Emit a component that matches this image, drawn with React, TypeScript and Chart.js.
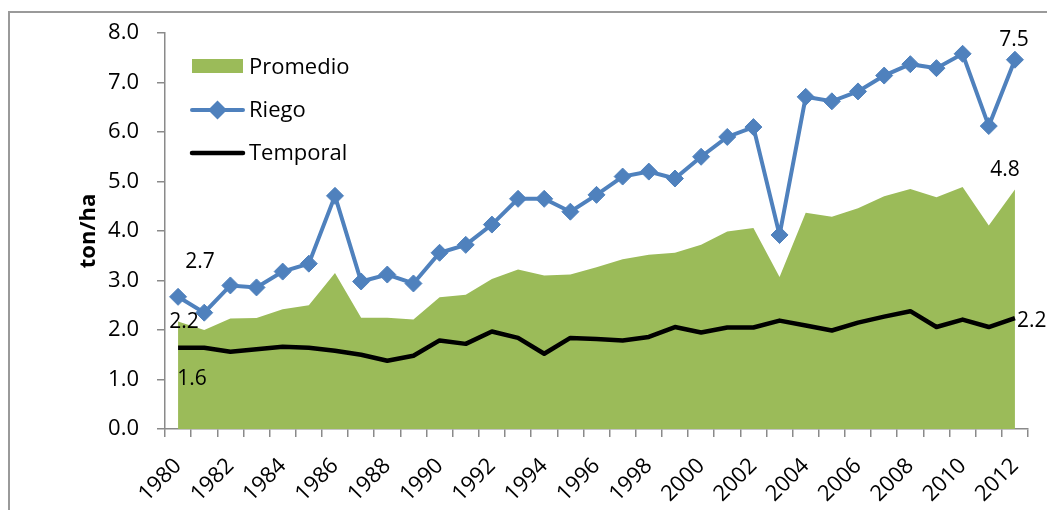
import React, { useEffect, useRef } from 'react';
import { Chart, registerables } from 'chart.js';

Chart.register(...registerables);

const FONT = "'Open Sans', sans-serif";

const years = ['1980', '1981', '1982', '1983', '1984', '1985', '1986', '1987', '1988', '1989', '1990', '1991', '1992', '1993', '1994', '1995', '1996', '1997', '1998', '1999', '2000', '2001', '2002', '2003', '2004', '2005', '2006', '2007', '2008', '2009', '2010', '2011', '2012'];

const promedio = [2.17, 2.0, 2.23, 2.24, 2.42, 2.5, 3.15, 2.25, 2.25, 2.21, 2.66, 2.71, 3.03, 3.22, 3.1, 3.12, 3.27, 3.43, 3.52, 3.56, 3.72, 3.99, 4.06, 3.07, 4.37, 4.29, 4.46, 4.7, 4.85, 4.68, 4.89, 4.11, 4.84];

const riego = [2.67, 2.35, 2.9, 2.86, 3.18, 3.34, 4.71, 2.98, 3.12, 2.94, 3.56, 3.72, 4.13, 4.65, 4.65, 4.39, 4.73, 5.1, 5.2, 5.06, 5.5, 5.9, 6.1, 3.92, 6.71, 6.62, 6.82, 7.14, 7.37, 7.29, 7.58, 6.12, 7.46];

const temporal = [1.64, 1.64, 1.56, 1.61, 1.66, 1.64, 1.58, 1.5, 1.38, 1.48, 1.79, 1.72, 1.97, 1.84, 1.52, 1.84, 1.82, 1.79, 1.86, 2.06, 1.95, 2.05, 2.05, 2.19, 2.09, 1.99, 2.15, 2.27, 2.38, 2.06, 2.21, 2.06, 2.24];

const seriesNames = ['Promedio', 'Riego', 'Temporal'];
const yTitle = 'ton/ha';

const GREEN = '#9BBB59';
const BLUE = '#4F81BD';
const AXIS = '#8a8a8a';

const overlay = {
  id: 'overlay',
  afterDatasetsDraw(chart: any) {
    const ctx = chart.ctx;
    ctx.save();
    // data labels
    ctx.font = `21px ${FONT}`;
    ctx.fillStyle = '#000';
    ctx.textAlign = 'center';
    ctx.textBaseline = 'middle';
    const pt = (ds: number, i: number) => chart.getDatasetMeta(ds).data[i];
    const last = years.length - 1;
    let p = pt(1, 0);
    ctx.fillText(riego[0].toFixed(1), p.x + 22, p.y - 35);
    p = pt(0, 0);
    ctx.fillText(promedio[0].toFixed(1), p.x + 6, p.y);
    p = pt(2, 0);
    ctx.fillText(temporal[0].toFixed(1), p.x + 14, p.y + 31);
    p = pt(1, last);
    ctx.fillText(riego[last].toFixed(1), p.x - 1, p.y - 20);
    p = pt(0, last);
    ctx.fillText(promedio[last].toFixed(1), p.x - 10, p.y - 19);
    p = pt(2, last);
    ctx.textAlign = 'left';
    ctx.fillText(temporal[last].toFixed(1), p.x + 2, p.y + 3);

    // legend
    const lx0 = 192;
    const lx1 = 243;
    const tx = 249;
    ctx.textAlign = 'left';
    ctx.textBaseline = 'alphabetic';
    ctx.font = `22px ${FONT}`;
    ctx.fillStyle = GREEN;
    ctx.fillRect(lx0, 59, lx1 - lx0, 14);
    ctx.fillStyle = '#000';
    ctx.fillText(seriesNames[0], tx, 74);

    ctx.lineCap = 'round';
    ctx.strokeStyle = BLUE;
    ctx.lineWidth = 4;
    ctx.beginPath();
    ctx.moveTo(lx0, 110);
    ctx.lineTo(lx1, 110);
    ctx.stroke();
    const cx = (lx0 + lx1) / 2;
    ctx.fillStyle = BLUE;
    ctx.beginPath();
    ctx.moveTo(cx, 110 - 9.5);
    ctx.lineTo(cx + 9.5, 110);
    ctx.lineTo(cx, 110 + 9.5);
    ctx.lineTo(cx - 9.5, 110);
    ctx.closePath();
    ctx.fill();
    ctx.fillStyle = '#000';
    ctx.fillText(seriesNames[1], tx, 117);

    ctx.strokeStyle = '#000';
    ctx.lineWidth = 4.5;
    ctx.beginPath();
    ctx.moveTo(lx0, 153);
    ctx.lineTo(lx1, 153);
    ctx.stroke();
    ctx.fillText(seriesNames[2], tx, 160);
    ctx.restore();
  },
};

export default function App() {
  const ref = useRef<HTMLCanvasElement>(null);
  useEffect(() => {
    if (!ref.current) return;
    const chart = new Chart(ref.current, {
      type: 'line',
      data: {
        labels: years,
        datasets: [
          {
            label: seriesNames[0],
            data: promedio,
            fill: 'origin',
            backgroundColor: GREEN,
            borderWidth: 0,
            borderColor: GREEN,
            pointRadius: 0,
            tension: 0,
            order: 3,
          },
          {
            label: seriesNames[1],
            data: riego,
            borderColor: BLUE,
            backgroundColor: BLUE,
            borderWidth: 4,
            pointStyle: 'rectRot',
            pointRadius: 8.5,
            pointBorderWidth: 1,
            pointBackgroundColor: BLUE,
            pointBorderColor: BLUE,
            tension: 0,
            fill: false,
            order: 1,
          },
          {
            label: seriesNames[2],
            data: temporal,
            borderColor: '#000',
            borderWidth: 4.5,
            pointRadius: 0,
            tension: 0,
            fill: false,
            borderJoinStyle: 'round',
            order: 2,
          },
        ],
      },
      options: {
        animation: false,
        responsive: false,
        maintainAspectRatio: false,
        layout: { padding: { left: 76, top: 33, right: 19, bottom: 0 } },
        plugins: {
          legend: { display: false },
          tooltip: { enabled: false },
        },
        scales: {
          x: {
            type: 'category',
            offset: true,
            afterFit: (s: any) => {
              s.height = 81;
              s.paddingRight = 0;
            },
            grid: {
              offset: true,
              drawOnChartArea: false,
              drawTicks: true,
              tickLength: 8,
              color: AXIS,
              lineWidth: 1.5,
            },
            border: { color: AXIS, width: 1.5 },
            ticks: {
              autoSkip: false,
              maxRotation: 45,
              minRotation: 45,
              padding: 16,
              color: '#000',
              font: { family: FONT, size: 22 },
              callback: (_v: any, i: number) => (i % 2 === 0 ? years[i] : ''),
            },
          },
          y: {
            min: 0,
            max: 8,
            afterFit: (s: any) => {
              s.width = 89;
            },
            grid: {
              drawOnChartArea: false,
              drawTicks: true,
              tickLength: 8,
              color: AXIS,
              lineWidth: 1.5,
            },
            border: { color: AXIS, width: 1.5 },
            ticks: {
              stepSize: 1,
              padding: 18,
              color: '#000',
              font: { family: FONT, size: 22 },
              callback: (v: any) => Number(v).toFixed(1),
            },
            title: {
              display: true,
              text: yTitle,
              color: '#000',
              padding: 0,
              font: { family: FONT, size: 22, weight: 'bold' },
            },
          },
        },
      },
      plugins: [overlay],
    });
    return () => chart.destroy();
  }, []);

  return (
    <div style={{ position: 'fixed', left: 0, top: 0, width: 1047, height: 510, overflow: 'hidden', background: '#fff' }}>
      <div style={{ position: 'absolute', left: 8, top: 11, width: 1200, height: 600, border: '2px solid #9a9a9a', boxSizing: 'border-box' }} />
      <canvas ref={ref} width={1047} height={510} style={{ position: 'absolute', left: 0, top: 0, width: 1047, height: 510 }} />
    </div>
  );
}
